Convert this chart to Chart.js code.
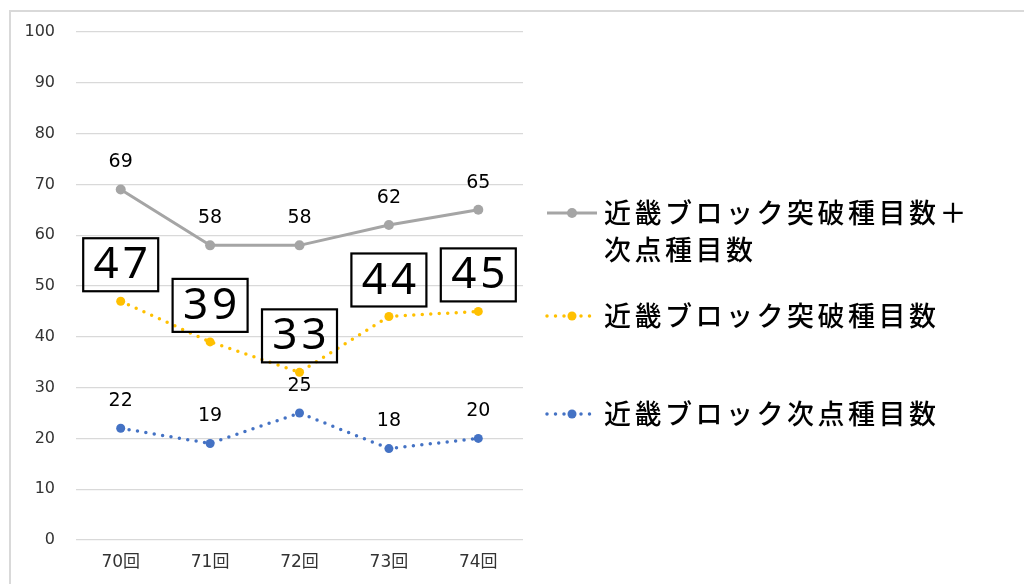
<!DOCTYPE html>
<html>
<head>
<meta charset="utf-8">
<script src="https://cdn.jsdelivr.net/npm/chart.js@4/dist/chart.umd.min.js"></script>
<style>
  html, body { margin: 0; padding: 0; background: #fff; overflow: hidden; }
  #wrap { position: relative; width: 1024px; height: 584px; }
  #frame { position: absolute; left: 9px; top: 10px; width: 1100px; height: 700px; border: 2px solid #d9d9d9; box-sizing: border-box; }
  canvas { position: absolute; left: 0; top: 0; }
</style>
</head>
<body>
<div id="wrap">
  <div id="frame"></div>
  <canvas id="chart" width="1024" height="584"></canvas>
</div>
<script>
const FONT = '"Noto Sans CJK JP", "Noto Sans", sans-serif';
const NUM_FONT = '"Noto Sans", sans-serif';
const TICK_FONT = '"DejaVu Sans", "Noto Sans CJK JP", sans-serif';
const TEXT_COLOR = '#333333';

const categories = ['70回', '71回', '72回', '73回', '74回'];
const totalValues = [69, 58, 58, 62, 65];
const breakValues = [47, 39, 33, 44, 45];
const nextValues = [22, 19, 25, 18, 20];
const seriesNames = ['近畿ブロック突破種目数＋\n次点種目数', '近畿ブロック突破種目数', '近畿ブロック次点種目数'];

// value labels: plain ones above the point, boxed big ones for the middle series
const valueLabels = {
  id: 'valueLabels',
  afterDatasetsDraw(chart) {
    const { ctx } = chart;
    chart.data.datasets.forEach((ds, i) => {
      const meta = chart.getDatasetMeta(i);
      meta.data.forEach((pt, j) => {
        const text = String(ds.data[j]);
        ctx.save();
        ctx.textAlign = 'center';
        ctx.textBaseline = 'middle';
        if (ds.boxed) {
          const w = 75, h = 53;
          const x = pt.x - w / 2, y = pt.y - 10 - h;
          ctx.strokeStyle = '#000';
          ctx.lineWidth = 2.2;
          ctx.strokeRect(x, y, w, h);
          ctx.fillStyle = '#000';
          ctx.font = `400 44px ${NUM_FONT}`;
          ctx.letterSpacing = '4px';
          ctx.fillText(text, pt.x + 2, y + h / 2 + 1);
        } else {
          ctx.fillStyle = '#000';
          ctx.font = `400 19px ${TICK_FONT}`;
          ctx.fillText(text, pt.x, pt.y - 27);
        }
        ctx.restore();
      });
    });
  },
};

const sideLegend = {
  id: 'sideLegend',
  afterDraw(chart) {
    const { ctx } = chart;
    const rows = [213, 316, 414];
    chart.data.datasets.forEach((ds, i) => {
      const y = rows[i];
      ctx.save();
      ctx.strokeStyle = ds.borderColor;
      ctx.lineWidth = ds.borderWidth;
      ctx.lineCap = ds.borderCapStyle || 'butt';
      ctx.setLineDash(ds.borderDash || []);
      ctx.beginPath();
      ctx.moveTo(547, y);
      ctx.lineTo(597, y);
      ctx.stroke();
      ctx.setLineDash([]);
      ctx.fillStyle = ds.pointBackgroundColor;
      ctx.beginPath();
      ctx.arc(572, y, ds.pointRadius, 0, Math.PI * 2);
      ctx.fill();
      ctx.fillStyle = '#000';
      ctx.font = `500 27px ${FONT}`;
      ctx.letterSpacing = '3.5px';
      ctx.textBaseline = 'middle';
      ctx.textAlign = 'left';
      ds.label.split('\n').forEach((line, k) => {
        ctx.fillText(line, 604, y + k * 37);
      });
      ctx.restore();
    });
  },
};

new Chart(document.getElementById('chart'), {
  type: 'line',
  data: {
    labels: categories,
    datasets: [
      {
        label: seriesNames[0],
        data: totalValues,
        borderColor: '#a5a5a5',
        backgroundColor: '#a5a5a5',
        pointBackgroundColor: '#a5a5a5',
        borderWidth: 3,
        pointRadius: 5,
        pointBorderWidth: 0,
        tension: 0,
        boxed: false,
      },
      {
        label: seriesNames[1],
        data: breakValues,
        borderColor: '#ffc000',
        backgroundColor: '#ffc000',
        pointBackgroundColor: '#ffc000',
        borderWidth: 3.5,
        borderDash: [0, 8.5],
        borderCapStyle: 'round',
        pointRadius: 4.5,
        pointBorderWidth: 0,
        tension: 0,
        boxed: true,
      },
      {
        label: seriesNames[2],
        data: nextValues,
        borderColor: '#4472c4',
        backgroundColor: '#4472c4',
        pointBackgroundColor: '#4472c4',
        borderWidth: 3.5,
        borderDash: [0, 8.5],
        borderCapStyle: 'round',
        pointRadius: 4.5,
        pointBorderWidth: 0,
        tension: 0,
        boxed: false,
      },
    ],
  },
  options: {
    responsive: false,
    animation: false,
    layout: { padding: { top: 32, right: 501, bottom: 0, left: 0 } },
    plugins: {
      legend: { display: false },
      tooltip: { enabled: false },
    },
    scales: {
      x: {
        offset: true,
        grid: { display: false, drawTicks: false },
        border: { display: false },
        afterFit(axis) { axis.height = 44; },
        ticks: { color: TEXT_COLOR, font: { family: TICK_FONT, size: 17 }, padding: 12 },
      },
      y: {
        min: 0,
        max: 100,
        grid: { color: '#d9d9d9', lineWidth: 1.3, drawTicks: false },
        border: { display: false },
        afterFit(axis) { axis.width = 76; },
        ticks: { stepSize: 10, color: TEXT_COLOR, font: { family: TICK_FONT, size: 16 }, padding: 21 },
      },
    },
  },
  plugins: [valueLabels, sideLegend],
});
</script>
</body>
</html>
